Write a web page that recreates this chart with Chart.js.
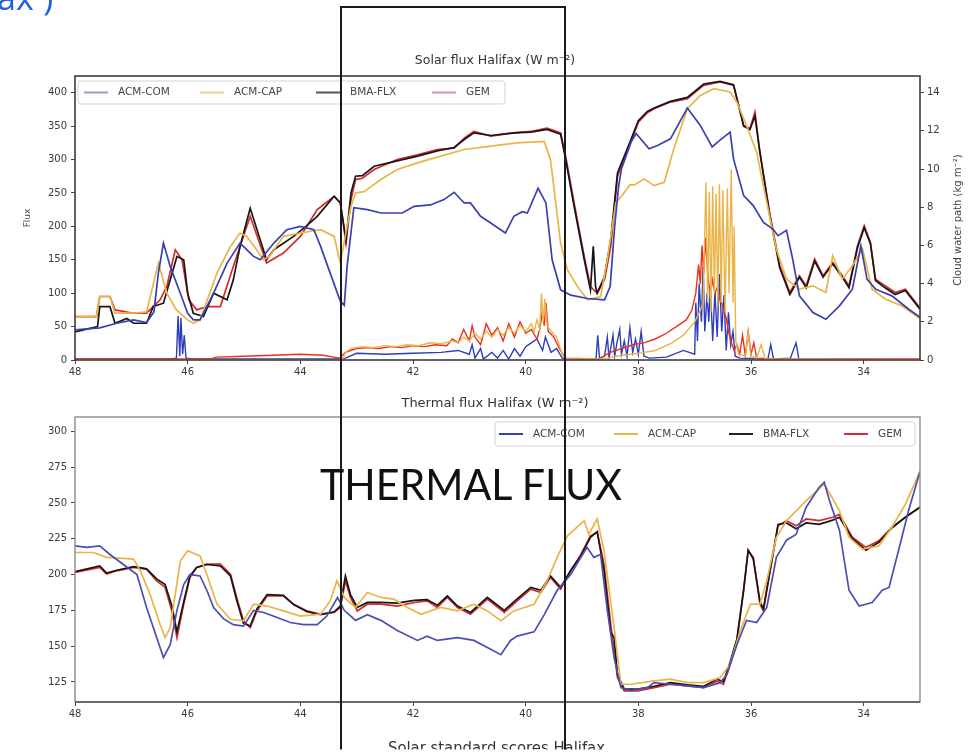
<!DOCTYPE html>
<html><head><meta charset="utf-8">
<script src="https://cdn.jsdelivr.net/npm/chart.js@4.4.1/dist/chart.umd.min.js"></script>
<style>
html,body{margin:0;padding:0;background:#fff;width:970px;height:756px;overflow:hidden;position:relative}
#c1{position:absolute;left:0;top:0}
#c2{position:absolute;left:0;top:385px}
#ov{position:absolute;left:0;top:0;pointer-events:none}
</style></head><body>
<canvas id="c1" width="970" height="385"></canvas>
<canvas id="c2" width="970" height="371"></canvas>
<svg id="ov" width="970" height="756">
  <rect x="341" y="7" width="224" height="770" fill="none" stroke="#1a1a1a" stroke-width="2"/>
  <text x="320" y="500" font-family="Lato, 'Open Sans', sans-serif" font-size="42" fill="#111" textLength="302" lengthAdjust="spacingAndGlyphs">THERMAL FLUX</text>
  <text x="-3" y="10" font-family="'Open Sans', sans-serif" font-size="34" fill="#1f62e6">ax<tspan font-family="'DejaVu Sans', sans-serif" font-size="18" dy="-9">⁻</tspan><tspan dy="9">)</tspan></text>
  <text x="388" y="753" font-family="'DejaVu Sans', sans-serif" font-size="16" fill="#333" textLength="217" lengthAdjust="spacingAndGlyphs">Solar standard scores Halifax</text>
  <rect x="0" y="749.5" width="970" height="8" fill="#fff"/>
</svg>
<script>
// ---------- tick labels ----------
const xTicks = [48, 46, 44, 42, 40, 38, 36, 34];
const solarTicks = [0, 50, 100, 150, 200, 250, 300, 350, 400];
const cwpTicks = [0, 2, 4, 6, 8, 10, 12, 14];
const thermalTicks = [125, 150, 175, 200, 225, 250, 275, 300];
const seriesNames = ['ACM-COM', 'ACM-CAP', 'BMA-FLX', 'GEM'];

// ---------- solar flux (W m-2) [longitude, value] ----------
const solarAcmCom = [[48,45],[47.56,48],[47.26,55],[46.96,60],[46.73,56],[46.6,72],[46.52,130],[46.43,175],[46.31,140],[46.13,100],[46.0,70],[45.9,60],[45.78,60],[45.54,100],[45.3,145],[45.07,175],[44.83,155],[44.71,150],[44.47,175],[44.24,195],[44.0,200],[43.76,195],[43.64,170],[43.47,130],[43.29,88],[43.22,82],[43.17,140],[43.05,228],[42.81,225],[42.57,220],[42.19,220],[41.98,230],[41.69,232],[41.45,240],[41.27,251],[41.09,235],[40.98,235],[40.8,215],[40.62,205],[40.36,190],[40.21,215],[40.06,222],[39.97,220],[39.78,257],[39.64,235],[39.53,150],[39.38,105],[39.2,97],[38.9,92],[38.6,90],[38.5,110],[38.42,200],[38.35,260],[38.3,286],[38.13,326],[38.04,339],[37.81,316],[37.66,321],[37.43,331],[37.13,377],[36.9,351],[36.69,319],[36.55,329],[36.37,341],[36.31,301],[36.13,246],[35.96,231],[35.78,206],[35.61,196],[35.52,186],[35.37,194],[35.26,151],[35.14,96],[34.9,71],[34.67,61],[34.43,81],[34.2,106],[34.05,171],[33.94,121],[33.79,106],[33.5,96],[33.2,76],[33.0,64]];
const solarAcmCap = [[48,65],[47.62,65],[47.56,95],[47.38,95],[47.29,70],[46.96,70],[46.73,72],[46.52,145],[46.37,100],[46.2,75],[46.0,60],[45.9,55],[45.78,60],[45.48,130],[45.24,170],[45.07,190],[44.95,185],[44.65,150],[44.55,155],[44.3,185],[44.0,190],[43.64,195],[43.4,185],[43.29,145],[43.17,200],[43.1,230],[43.02,250],[42.87,252],[42.57,270],[42.28,285],[41.92,295],[41.51,305],[41.09,315],[40.62,320],[40.15,325],[39.67,327],[39.56,300],[39.38,175],[39.26,135],[39.08,110],[38.9,90],[38.67,95],[38.55,150],[38.4,235],[38.3,245],[38.15,262],[38.07,262],[37.9,271],[37.72,261],[37.54,266],[37.37,316],[37.13,376],[36.9,396],[36.66,406],[36.37,401],[36.25,386],[36.08,351],[35.9,311],[35.72,236],[35.55,166],[35.37,121],[35.14,106],[34.9,111],[34.67,101],[34.55,156],[34.38,121],[34.2,141],[34.02,166],[33.85,106],[33.61,91],[33.32,81],[33.0,62]];
const solarBmaFlx = [[48,42],[47.6,50],[47.56,80],[47.38,80],[47.29,55],[47.08,62],[46.96,55],[46.73,55],[46.61,80],[46.43,85],[46.31,120],[46.19,155],[46.07,150],[46.0,100],[45.9,70],[45.72,65],[45.54,100],[45.3,90],[45.19,120],[45.07,170],[44.89,227],[44.6,150],[44.47,165],[44.12,185],[43.9,200],[43.7,215],[43.4,245],[43.29,235],[43.19,180],[43.1,250],[43.02,275],[42.9,276],[42.69,290],[42.28,298],[41.92,305],[41.57,313],[41.27,318],[41.09,330],[40.92,340],[40.62,336],[40.21,340],[39.91,341],[39.62,345],[39.38,338],[39.29,300],[39.14,230],[38.96,150],[38.85,105],[38.8,170],[38.76,110],[38.73,100],[38.6,125],[38.49,180],[38.37,280],[38.14,328],[38.0,358],[37.84,372],[37.72,377],[37.43,387],[37.13,393],[36.84,413],[36.55,417],[36.31,412],[36.13,350],[36.02,345],[35.93,365],[35.85,315],[35.67,218],[35.49,138],[35.31,98],[35.14,124],[35.02,108],[34.87,148],[34.72,124],[34.55,144],[34.38,124],[34.26,108],[34.11,168],[33.99,198],[33.88,174],[33.79,119],[33.62,108],[33.44,98],[33.26,104],[33.0,76]];
const solarGem = [[48,65],[47.62,65],[47.56,95],[47.38,95],[47.29,75],[46.96,70],[46.73,70],[46.49,90],[46.37,110],[46.22,165],[46.1,150],[45.98,90],[45.84,75],[45.66,80],[45.42,80],[45.19,140],[44.89,215],[44.6,145],[44.3,160],[44.0,185],[43.7,225],[43.4,245],[43.29,235],[43.19,175],[43.1,240],[43.02,270],[42.9,272],[42.69,285],[42.28,300],[41.92,307],[41.57,315],[41.27,317],[41.09,332],[40.92,342],[40.62,335],[40.21,340],[39.91,342],[39.62,347],[39.38,340],[39.29,305],[39.14,235],[38.96,155],[38.85,110],[38.73,100],[38.6,120],[38.49,170],[38.37,275],[38.14,325],[38.0,356],[37.84,370],[37.72,376],[37.43,386],[37.13,391],[36.84,411],[36.55,416],[36.31,411],[36.13,351],[36.02,346],[35.93,371],[35.85,316],[35.67,221],[35.49,141],[35.31,101],[35.14,126],[35.02,111],[34.87,151],[34.72,126],[34.55,146],[34.38,126],[34.26,111],[34.11,171],[33.99,201],[33.88,176],[33.79,121],[33.62,111],[33.44,101],[33.26,106],[33.0,78]];

// ---------- cloud water path (kg m-2), right axis ----------
const cwpAcmCom = [[48,0.05],[46.3,0.05],[46.2,0.1],[46.17,2.3],[46.14,0.2],[46.12,2.2],[46.09,0.3],[46.06,1.3],[46.03,0.1],[45.9,0.05],[43.3,0.05],[43.2,0.1],[43.0,0.35],[42.5,0.3],[42.0,0.35],[41.5,0.4],[41.2,0.5],[41.0,0.3],[40.95,0.8],[40.9,0.1],[40.8,0.6],[40.75,0.05],[40.6,0.4],[40.5,0.1],[40.4,0.5],[40.3,0.05],[40.2,0.6],[40.1,0.2],[40.0,0.7],[39.9,0.9],[39.8,1.1],[39.7,0.5],[39.65,1.2],[39.55,0.4],[39.45,0.6],[39.35,0.1],[39.2,0.02],[38.8,0.02],[38.75,0.1],[38.72,1.3],[38.69,0.1],[38.6,0.2],[38.55,1.2],[38.52,0.1],[38.45,1.3],[38.42,0.2],[38.38,0.9],[38.33,1.6],[38.3,0.3],[38.25,1.0],[38.2,0.2],[38.15,1.7],[38.1,0.4],[38.05,1.1],[38.0,0.3],[37.95,1.5],[37.9,0.2],[37.8,0.1],[37.5,0.15],[37.2,0.5],[37.0,0.3],[36.98,3.0],[36.95,1.0],[36.92,4.0],[36.88,2.0],[36.85,4.9],[36.82,1.5],[36.78,3.5],[36.75,2.0],[36.72,3.8],[36.68,1.0],[36.64,3.6],[36.6,1.2],[36.56,4.5],[36.52,1.5],[36.48,3.4],[36.44,0.5],[36.4,2.5],[36.36,0.8],[36.32,1.5],[36.28,0.2],[36.2,0.1],[35.7,0.05],[35.65,0.8],[35.6,0.05],[35.3,0.1],[35.2,0.9],[35.15,0.05],[33,0.02]];
const cwpAcmCap = [[48,0.02],[43.25,0.02],[43.2,0.4],[43.1,0.6],[42.9,0.7],[42.7,0.65],[42.5,0.75],[42.3,0.7],[42.1,0.8],[41.9,0.75],[41.7,0.9],[41.5,0.85],[41.3,1.0],[41.2,0.9],[41.1,1.2],[41.0,1.0],[40.9,1.4],[40.8,1.1],[40.7,1.5],[40.6,1.2],[40.5,1.6],[40.4,1.3],[40.3,1.7],[40.2,1.4],[40.1,1.8],[40.0,1.5],[39.9,1.9],[39.85,1.5],[39.8,2.1],[39.75,1.6],[39.72,3.5],[39.69,2.0],[39.66,3.2],[39.62,1.8],[39.55,1.5],[39.45,1.2],[39.35,0.3],[39.3,0.05],[38.6,0.05],[38.4,0.2],[38.0,0.35],[37.7,0.5],[37.4,0.9],[37.2,1.3],[37.0,2.0],[36.9,2.6],[36.85,3.0],[36.8,9.3],[36.77,3.0],[36.74,8.8],[36.71,2.5],[36.68,9.1],[36.65,3.5],[36.62,8.7],[36.59,2.8],[36.56,9.2],[36.53,3.0],[36.5,8.9],[36.46,2.5],[36.42,9.0],[36.39,3.5],[36.35,10.0],[36.32,3.0],[36.3,7.0],[36.27,1.0],[36.22,0.3],[36.1,0.2],[36.05,1.4],[36.0,0.2],[35.9,0.1],[35.82,0.8],[35.75,0.05],[33,0.02]];
const cwpGem = [[48,0.05],[45.6,0.05],[45.5,0.15],[45.0,0.2],[44.5,0.25],[44.0,0.3],[43.6,0.25],[43.3,0.1],[43.2,0.4],[43.0,0.6],[42.8,0.65],[42.6,0.6],[42.4,0.7],[42.2,0.65],[42.0,0.75],[41.8,0.7],[41.6,0.8],[41.4,0.75],[41.3,1.1],[41.2,0.9],[41.1,1.6],[41.0,1.0],[40.95,1.8],[40.9,1.2],[40.8,0.8],[40.7,1.9],[40.6,1.3],[40.5,1.7],[40.4,1.0],[40.3,1.9],[40.2,1.2],[40.1,2.0],[40.0,1.4],[39.9,1.6],[39.8,1.1],[39.75,1.6],[39.7,2.6],[39.67,1.8],[39.64,3.0],[39.6,1.5],[39.5,1.2],[39.4,0.6],[39.3,0.1],[38.7,0.05],[38.5,0.4],[38.3,0.6],[38.1,0.8],[37.9,0.9],[37.7,1.1],[37.5,1.4],[37.3,1.8],[37.15,2.1],[37.05,2.6],[36.98,3.5],[36.93,5.0],[36.9,4.0],[36.87,6.0],[36.84,4.5],[36.81,6.4],[36.78,5.0],[36.75,4.0],[36.72,3.5],[36.68,4.2],[36.64,3.5],[36.6,3.8],[36.56,3.2],[36.52,3.0],[36.48,2.5],[36.44,2.2],[36.4,1.5],[36.36,1.0],[36.3,0.5],[36.25,0.8],[36.2,0.3],[36.15,1.3],[36.1,0.2],[36.05,1.5],[36.0,0.3],[35.95,0.9],[35.9,0.1],[35.6,0.05],[33,0.05]];

// ---------- thermal flux (W m-2) ----------
const thermalAcmCom = [[48,220],[47.79,219],[47.56,220],[47.38,214],[47.14,207],[46.9,200],[46.73,177],[46.55,156],[46.43,142],[46.31,151],[46.19,175],[46.07,193],[45.96,200],[45.78,199],[45.66,189],[45.54,177],[45.36,169],[45.19,165],[45.01,164],[44.83,175],[44.65,173.5],[44.41,170],[44.18,166.5],[43.94,165],[43.7,165],[43.53,171],[43.34,184],[43.22,175],[43.02,168],[42.81,172],[42.57,168],[42.28,161],[41.92,154],[41.75,157],[41.57,154],[41.21,156],[40.92,154],[40.68,149],[40.44,144],[40.27,154],[40.15,157],[39.85,160],[39.67,172],[39.44,189],[39.2,200],[39.02,212],[38.91,219],[38.79,212],[38.67,214],[38.55,175],[38.43,142],[38.31,121],[38.14,119],[37.84,121],[37.72,124.5],[37.43,123.4],[37.13,122.2],[36.84,121],[36.55,124.5],[36.43,130],[36.25,151],[36.08,168],[35.9,166.5],[35.72,177],[35.55,212],[35.37,224],[35.2,228],[35.02,247],[34.79,261],[34.7,264.4],[34.61,252],[34.43,231],[34.26,189],[34.08,178],[33.85,180.5],[33.67,189],[33.55,191],[33.38,217],[33.2,245],[33.0,272]];
const thermalAcmCap = [[48,215.4],[47.67,215.4],[47.44,212],[46.96,210.8],[46.84,202.6],[46.67,186.3],[46.49,165.3],[46.4,156],[46.31,163],[46.13,209.6],[46.0,216.6],[45.78,213],[45.66,200],[45.48,179.3],[45.24,168.8],[45.01,167.7],[44.83,179.3],[44.59,178],[44.3,174.6],[44.0,171],[43.64,172.3],[43.47,181.6],[43.35,195.6],[43.22,184],[43.02,177],[42.81,187.5],[42.57,184],[42.34,182.8],[42.1,177],[41.86,172.3],[41.51,177],[41.21,174.6],[40.92,179.3],[40.68,174.6],[40.44,167.7],[40.21,174.6],[39.85,179.3],[39.62,195.6],[39.44,212],[39.26,227],[38.96,237.6],[38.88,228],[38.73,238.8],[38.61,216.6],[38.43,163],[38.31,123.4],[38.13,123.4],[37.72,125.7],[37.43,127],[37.13,124.5],[36.84,124.5],[36.55,128],[36.37,137.4],[36.19,160.7],[36.01,179.3],[35.84,179.3],[35.72,195.6],[35.55,226],[35.37,237.6],[35.02,251.6],[34.7,263.2],[34.43,244.6],[34.26,226],[34.02,217.8],[33.73,220],[33.5,233],[33.26,249],[33.0,272]];
const thermalBmaFlx = [[48,202],[47.56,206],[47.44,201],[47.26,203],[46.96,205.5],[46.73,204],[46.55,197],[46.4,193],[46.28,178],[46.19,160],[46.07,181],[45.96,199],[45.84,205],[45.66,207],[45.42,206],[45.24,199],[45.13,182],[45.01,166],[44.89,164],[44.77,176],[44.59,186],[44.3,185.5],[44.12,179],[43.88,174],[43.64,172],[43.4,174],[43.29,178],[43.2,199],[43.11,186],[42.99,177],[42.81,180.5],[42.57,180.5],[42.28,180],[41.98,182],[41.75,182.5],[41.57,178.5],[41.39,185],[41.21,178],[40.98,173.5],[40.68,184],[40.38,175],[40.15,183],[39.91,191],[39.73,189],[39.56,199],[39.38,191],[39.2,203],[39.02,213],[38.85,226],[38.73,230],[38.61,203],[38.49,160],[38.43,156],[38.37,130],[38.25,120],[38.01,120],[37.72,122],[37.43,124.5],[37.13,123],[36.84,122],[36.6,127],[36.49,125],[36.37,139],[36.25,155],[36.13,190],[36.05,217],[35.96,211],[35.84,181],[35.78,176],[35.67,201],[35.52,235],[35.37,236],[35.2,232],[35.02,236],[34.79,235],[34.55,238],[34.43,240],[34.2,225],[33.96,217],[33.73,222.5],[33.5,232.5],[33.26,240],[33.0,247]];
const thermalGem = [[48,201.5],[47.56,205],[47.44,200.3],[47.26,202.6],[46.96,205],[46.73,203.8],[46.55,195.6],[46.4,191],[46.28,174.6],[46.19,156],[46.07,179.3],[45.96,198],[45.84,205],[45.66,207.3],[45.42,207.3],[45.24,200.3],[45.13,184],[45.01,167.7],[44.89,163],[44.77,174.6],[44.59,185],[44.3,185],[44.12,179.3],[43.88,174.6],[43.64,172.3],[43.4,173.5],[43.29,177],[43.2,195.6],[43.11,184],[42.99,174.6],[42.81,179.3],[42.57,179.3],[42.28,178],[41.98,180.5],[41.75,181.6],[41.57,177],[41.39,184],[41.21,177],[40.98,172.3],[40.68,182.8],[40.38,173.5],[40.15,181.6],[39.91,189.8],[39.73,187.5],[39.56,198],[39.38,189.8],[39.2,202.6],[39.02,214],[38.85,227],[38.73,229.4],[38.61,207.3],[38.49,165.3],[38.37,128],[38.25,118.7],[38.01,118.7],[37.72,121],[37.43,123.4],[37.13,122.2],[36.84,121],[36.6,125.7],[36.49,123.4],[36.37,137.4],[36.25,153.7],[36.13,188.6],[36.05,216.6],[35.96,212],[35.84,179.3],[35.78,174.6],[35.67,200.3],[35.52,234],[35.37,237.6],[35.2,234],[35.02,238.8],[34.79,237.6],[34.55,240],[34.43,242],[34.2,226],[33.96,219],[33.73,223.6],[33.5,233],[33.26,240],[33.0,247]];

// ---------- styling ----------
const COL = {com:'#3a40ad', cap:'#e9b548', bma:'#161616', gem:'#d8282c'};
const FONT = "'DejaVu Sans', sans-serif";
const pts = a => a.map(p => ({x:p[0], y:p[1]}));
const line = (label, data, color, axis, extra) => Object.assign({
  label, data: pts(data), borderColor: color, backgroundColor: color,
  borderWidth: 1.7, pointRadius: 0, tension: 0, fill: false, yAxisID: axis
}, extra || {});

const framePlugin = {
  id: 'frame',
  afterDatasetsDraw(chart, args, o) {
    const {ctx, chartArea: a} = chart;
    ctx.save();
    ctx.strokeStyle = o.color; ctx.lineWidth = o.width;
    ctx.strokeRect(a.left, a.top, a.right - a.left, a.bottom - a.top);
    if (o.bottomColor) {
      ctx.strokeStyle = o.bottomColor;
      ctx.beginPath(); ctx.moveTo(a.left, a.bottom); ctx.lineTo(a.right, a.bottom); ctx.stroke();
    }
    ctx.restore();
  }
};
const textPlugin = {
  id: 'texts',
  afterDraw(chart, args, o) {
    const ctx = chart.ctx;
    ctx.save();
    (o.items || []).forEach(t => {
      ctx.save();
      ctx.translate(t.x, t.y);
      ctx.rotate(t.rot || 0);
      ctx.font = t.font; ctx.fillStyle = t.color;
      ctx.textAlign = 'center'; ctx.textBaseline = 'middle';
      ctx.fillText(t.text, 0, 0);
      ctx.restore();
    });
    ctx.restore();
  }
};
const legendPlugin = {
  id: 'inLegend',
  afterDraw(chart, args, o) {
    const ctx = chart.ctx;
    ctx.save();
    ctx.fillStyle = 'rgba(255,255,255,0.85)';
    ctx.strokeStyle = '#d4d4d4'; ctx.lineWidth = 1;
    ctx.beginPath();
    ctx.roundRect(o.x, o.y, o.w, o.h, 3);
    ctx.fill(); ctx.stroke();
    const cy = o.y + o.h / 2;
    seriesNames.forEach((name, i) => {
      const x0 = o.x + o.first + i * o.step;
      ctx.strokeStyle = o.colors[i]; ctx.lineWidth = 2;
      ctx.beginPath(); ctx.moveTo(x0, cy); ctx.lineTo(x0 + o.len, cy); ctx.stroke();
      ctx.font = '10.5px ' + FONT; ctx.fillStyle = '#444';
      ctx.textAlign = 'left'; ctx.textBaseline = 'middle';
      ctx.fillText(name, x0 + o.len + o.gap, cy);
    });
    ctx.restore();
  }
};

const xScale = (h) => ({
  type: 'linear', reverse: true, min: 33, max: 48, position: 'bottom',
  afterBuildTicks: s => { s.ticks = xTicks.map(v => ({value: v})); },
  afterFit: s => { s.height = h; },
  grid: {drawOnChartArea: false, drawTicks: true, tickLength: 4, color: '#444'},
  border: {display: false},
  ticks: {font: {size: 10, family: FONT}, color: '#3a3a3a', padding: 2, maxRotation: 0, autoSkip: false}
});
const yScale = (pos, min, max, ticks, w, extra) => Object.assign({
  type: 'linear', position: pos, min, max,
  afterBuildTicks: s => { s.ticks = ticks.map(v => ({value: v})); },
  afterFit: s => { s.width = w; },
  grid: {drawOnChartArea: false, drawTicks: true, tickLength: 4, color: '#444'},
  border: {display: false},
  ticks: {font: {size: 10, family: FONT}, color: '#3a3a3a', padding: pos === 'left' ? 4 : 3, autoSkip: false}
}, extra || {});

// ---------- top chart: solar flux ----------
new Chart(document.getElementById('c1'), {
  type: 'line',
  data: {datasets: [
    line('ACM-COM', solarAcmCom, COL.com, 'y'),
    line('ACM-CAP', solarAcmCap, COL.cap, 'y'),
    line('BMA-FLX', solarBmaFlx, COL.bma, 'y'),
    line('GEM', solarGem, COL.gem, 'y'),
    line('ACM-CAP cloud', cwpAcmCap, COL.cap, 'y1', {borderWidth: 1.4}),
    line('GEM cloud', cwpGem, '#e8321e', 'y1', {borderWidth: 1.4}),
    line('ACM-COM cloud', cwpAcmCom, '#2f3db8', 'y1', {borderWidth: 1.4})
  ]},
  options: {
    responsive: false, animation: false, events: [],
    layout: {padding: {top: 76, left: 0, right: 0, bottom: 0}},
    scales: {
      x: xScale(25),
      y: yScale('left', 0, 425, solarTicks, 75, {title: {display: true, text: 'Flux', font: {size: 9, family: FONT}, color: '#444', padding: {top: 22, bottom: 0}}}),
      y1: yScale('right', 0, 14.875, cwpTicks, 50)
    },
    plugins: {
      legend: {display: false}, tooltip: {enabled: false},
      frame: {color: '#3c3c3c', width: 1.6},
      texts: {items: [
        {text: 'Solar flux Halifax (W m⁻²)', x: 495, y: 61, font: '12.5px ' + FONT, color: '#333'},
        {text: 'Cloud water path (kg m⁻²)', x: 958, y: 220, rot: -Math.PI / 2, font: '10px ' + FONT, color: '#444'}
      ]},
      inLegend: {x: 78, y: 81, w: 427, h: 23, first: 6, step: 116, len: 24, gap: 10,
        colors: ['#9a9ad6', '#ecd08a', '#555', '#e98c9a']}
    }
  },
  plugins: [framePlugin, legendPlugin, textPlugin]
});

// ---------- bottom chart: thermal flux ----------
new Chart(document.getElementById('c2'), {
  type: 'line',
  data: {datasets: [
    line('ACM-COM', thermalAcmCom, '#4a4fb2', 'y'),
    line('ACM-CAP', thermalAcmCap, COL.cap, 'y'),
    line('BMA-FLX', thermalBmaFlx, COL.bma, 'y'),
    line('GEM', thermalGem, COL.gem, 'y')
  ]},
  options: {
    responsive: false, animation: false, events: [],
    layout: {padding: {top: 32, left: 0, right: 50, bottom: 0}},
    scales: {
      x: xScale(54),
      y: yScale('left', 111, 310, thermalTicks, 75)
    },
    plugins: {
      legend: {display: false}, tooltip: {enabled: false},
      frame: {color: '#8c8c8c', width: 1.4, bottomColor: '#555'},
      texts: {items: [
        {text: 'Thermal flux Halifax (W m⁻²)', x: 495, y: 19, font: '13px ' + FONT, color: '#333'}
      ]},
      inLegend: {x: 495, y: 37, w: 420, h: 24, first: 4, step: 115, len: 24, gap: 10,
        colors: ['#3a40ad', '#e9b548', '#222', '#d8282c']}
    }
  },
  plugins: [framePlugin, legendPlugin, textPlugin]
});
</script>
</body></html>
